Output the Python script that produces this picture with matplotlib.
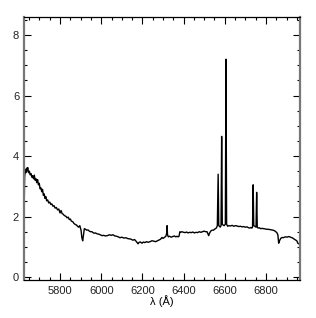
import matplotlib
matplotlib.use("Agg")
import matplotlib.pyplot as plt
from matplotlib.ticker import MultipleLocator

# spectrum (wavelength in Angstrom, relative flux)
wave = [5625, 5628, 5631, 5634, 5637, 5640, 5643, 5647, 5651, 5655, 5659, 5663,
        5667, 5671, 5675, 5679, 5683, 5687, 5691, 5695, 5699, 5703, 5707, 5711,
        5715, 5719, 5723, 5727, 5731, 5735, 5740, 5745, 5750, 5755, 5760, 5766,
        5771, 5776, 5782, 5788, 5794, 5800, 5805, 5810, 5815, 5820, 5825, 5830,
        5834, 5840, 5845, 5850, 5855, 5862, 5868, 5874, 5880, 5885, 5890, 5896,
        5902, 5906, 5910, 5914, 5918, 5924, 5930, 5936, 5942, 5948, 5955, 5960,
        5965, 5972, 5980, 5988, 5995, 6004, 6012, 6020, 6030, 6040, 6048, 6057,
        6066, 6075, 6083, 6091, 6100, 6110, 6120, 6130, 6142, 6154, 6162, 6170,
        6179, 6184, 6190, 6198, 6205, 6212, 6220, 6228, 6237, 6246, 6255, 6264,
        6276, 6283, 6288, 6295, 6300, 6305, 6310, 6314, 6318, 6320, 6322, 6326,
        6332, 6340, 6348, 6355, 6362, 6368, 6373, 6378, 6382, 6386, 6392, 6400,
        6408, 6415, 6422, 6430, 6438, 6445, 6452, 6460, 6468, 6476, 6484, 6492,
        6500, 6507, 6514, 6518, 6522, 6526, 6532, 6538, 6545, 6550, 6555, 6560,
        6564, 6568, 6571, 6575, 6578, 6582, 6585, 6588, 6592, 6597, 6603, 6606,
        6609, 6614, 6620, 6628, 6636, 6644, 6652, 6660, 6668, 6676, 6684, 6692,
        6700, 6708, 6716, 6722, 6728, 6732, 6735, 6738, 6741, 6746, 6752, 6755,
        6758, 6762, 6768, 6775, 6782, 6790, 6798, 6805, 6812, 6819, 6826, 6835,
        6842, 6848, 6853, 6858, 6862, 6866, 6872, 6878, 6884, 6890, 6896, 6903,
        6910, 6916, 6922, 6928, 6934, 6941, 6946, 6950, 6955, 6960, 6965]
flux = [2.0, 3.3, 3.55, 3.45, 3.6, 3.52, 3.62, 3.45, 3.5, 3.38, 3.42, 3.3,
        3.35, 3.25, 3.37, 3.2, 3.25, 3.12, 3.22, 3.05, 3.1, 2.92, 2.95, 2.82,
        2.9, 2.7, 2.75, 2.6, 2.66, 2.52, 2.55, 2.45, 2.48, 2.4, 2.42, 2.34,
        2.36, 2.28, 2.3, 2.22, 2.25, 2.12, 2.2, 2.1, 2.08, 2.04, 2.02, 2.0,
        1.96, 1.98, 1.9, 1.92, 1.85, 1.83, 1.77, 1.74, 1.72, 1.68, 1.65, 1.7,
        1.55, 1.3, 1.2, 1.4, 1.6, 1.58, 1.55, 1.56, 1.52, 1.5, 1.5, 1.47,
        1.45, 1.46, 1.43, 1.42, 1.4, 1.37, 1.38, 1.36, 1.37, 1.4, 1.38, 1.4,
        1.36, 1.35, 1.33, 1.3, 1.32, 1.29, 1.3, 1.27, 1.26, 1.22, 1.24, 1.18,
        1.1, 1.15, 1.16, 1.12, 1.16, 1.14, 1.17, 1.15, 1.17, 1.2, 1.19, 1.17,
        1.21, 1.23, 1.25, 1.31, 1.28, 1.3, 1.33, 1.35, 1.45, 1.7, 1.4, 1.33,
        1.35, 1.32, 1.34, 1.36, 1.33, 1.35, 1.33, 1.35, 1.5, 1.48, 1.5, 1.48,
        1.47, 1.49, 1.46, 1.48, 1.47, 1.49, 1.46, 1.48, 1.47, 1.5, 1.48, 1.5,
        1.52, 1.5, 1.5, 1.43, 1.37, 1.45, 1.52, 1.55, 1.55, 1.58, 1.6, 1.63,
        1.7, 3.4, 1.7, 1.68, 1.65, 1.7, 4.65, 1.75, 1.72, 1.7, 1.75, 7.2,
        1.75, 1.68, 1.7, 1.69, 1.71, 1.68, 1.7, 1.69, 1.67, 1.68, 1.66, 1.67,
        1.65, 1.66, 1.63, 1.62, 1.64, 1.62, 1.65, 3.05, 1.7, 1.68, 1.65, 2.8,
        1.65, 1.62, 1.63, 1.6, 1.61, 1.6, 1.59, 1.58, 1.58, 1.57, 1.56, 1.55,
        1.53, 1.5, 1.47, 1.4, 1.12, 1.2, 1.28, 1.31, 1.3, 1.32, 1.33, 1.32,
        1.34, 1.33, 1.31, 1.3, 1.27, 1.24, 1.22, 1.2, 1.12, 1.1, 1.08]

x_ticks = [5800, 6000, 6200, 6400, 6600, 6800]
y_ticks = [0, 2, 4, 6, 8]


def main():
    plt.rcParams['font.family'] = ['Liberation Sans', 'DejaVu Sans']

    fig = plt.figure(figsize=(3.16, 3.18), dpi=100)
    ax = fig.add_axes([0.076, 0.121, 0.873, 0.826])

    ax.plot(wave, flux, color='black', lw=1.0)

    ax.set_xlim(5625, 6965)
    ax.set_ylim(-0.08, 8.6)
    ax.set_xticks(x_ticks)
    ax.set_yticks(y_ticks)
    ax.xaxis.set_minor_locator(MultipleLocator(50))
    ax.yaxis.set_minor_locator(MultipleLocator(0.5))
    ax.tick_params(which='both', direction='in', top=True, right=True,
                   labelsize=8, width=0.8, colors='black', labelcolor='#222222')
    ax.tick_params(which='major', length=5)
    ax.tick_params(which='minor', length=2.5)
    ax.tick_params(axis='x', pad=5)
    ax.tick_params(axis='y', pad=3.5)

    for side in ['left', 'right']:
        ax.spines[side].set_color('#777777')
        ax.spines[side].set_linewidth(1.6)
    for side in ['top', 'bottom']:
        ax.spines[side].set_linewidth(0.9)

    ax.set_xlabel('λ (Å)', fontsize=8, labelpad=-1)

    fig.savefig('out.png', dpi=100)


if __name__ == "__main__":
    main()
